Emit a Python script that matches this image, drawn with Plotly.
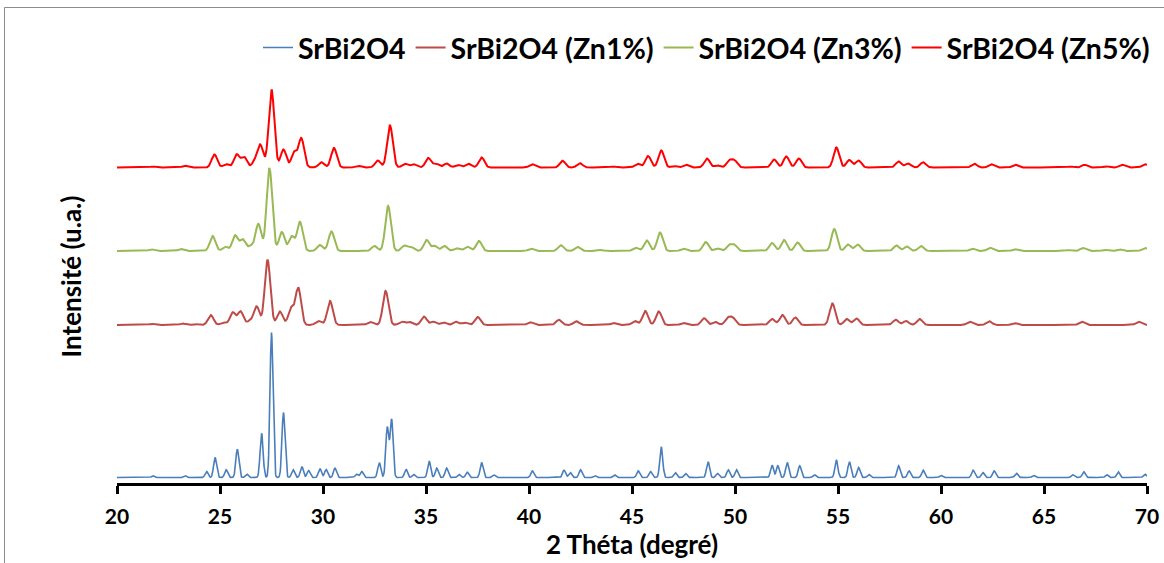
import numpy as np
import plotly.graph_objects as go

# 2-theta scan range (degrees)
two_theta_min, two_theta_max = 20.0, 70.0
x_ticks = [20, 25, 30, 35, 40, 45, 50, 55, 60, 65, 70]

series_names = ["SrBi2O4", "SrBi2O4 (Zn1%)", "SrBi2O4 (Zn3%)", "SrBi2O4 (Zn5%)"]

# Reflections: 2-theta positions and intensities (a.u.)
pure_pos = [21.75, 23.3, 24.35, 24.76, 25.3, 25.84, 26.3, 27.02, 27.5, 28.08, 28.55, 28.97,
            29.3, 29.85, 30.15, 30.58, 31.63, 31.88, 32.73, 33.12, 33.33, 34.03, 34.4,
            35.15, 35.52, 36.0, 36.6, 37.0, 37.7, 38.3,
            40.16, 41.7, 42.0, 42.5, 43.2, 44.15, 45.3, 45.9, 46.42, 47.1, 47.6, 48.69,
            49.15, 49.67, 50.07, 51.8, 52.08, 52.53, 53.14, 53.86, 54.92, 55.55, 56.0,
            56.5, 57.94, 58.45, 59.13, 60.0, 61.56, 62.03, 62.58, 63.66, 64.5, 66.4,
            66.93, 68.05, 68.6, 69.9]
pure_int = [1.7, 2.0, 6.0, 20.0, 7.7, 28.3, 3.3, 44.3, 145.0, 65.0, 7.7, 11.0,
            7.0, 9.0, 8.0, 9.3, 3.3, 6.0, 15.0, 50.0, 58.0, 8.3, 3.0,
            16.7, 9.3, 9.3, 3.0, 5.3, 15.0, 2.5,
            6.7, 7.3, 5.0, 7.7, 2.0, 2.7, 6.7, 6.0, 30.7, 5.0, 4.0, 16.0,
            4.0, 7.7, 7.7, 12.3, 11.7, 15.3, 11.7, 2.7, 17.7, 16.0, 10.0,
            3.0, 11.7, 6.7, 7.3, 2.0, 7.3, 5.0, 6.7, 4.3, 2.0, 2.7,
            5.7, 2.7, 5.7, 3.3]

zn1_pos = [21.7, 23.2, 23.8, 24.55, 25.17, 25.62, 26.0, 26.45, 26.78, 27.31, 27.91, 28.45,
           28.8, 29.78, 30.34, 32.3, 33.04, 33.82, 34.2, 34.9, 35.36, 35.85, 36.46, 36.9,
           37.51, 40.06, 41.45, 42.3, 44.1, 45.13, 45.64, 46.3, 47.5, 48.5, 49.05, 49.65,
           49.9, 51.8, 52.3, 52.93, 54.73, 55.43, 55.9, 57.8, 58.3, 58.96, 61.4, 62.34,
           63.56, 66.83, 69.6]
zn1_int = [1.2, 1.5, 1.0, 10.0, 2.5, 12.5, 13.5, 4.0, 18.5, 65.0, 13.5, 16.5,
           37.0, 4.0, 24.0, 3.0, 34.0, 3.3, 3.0, 8.5, 3.3, 2.7, 3.3, 2.3,
           8.0, 2.7, 5.3, 3.7, 2.0, 4.0, 14.0, 13.5, 2.0, 6.7, 3.0, 6.5,
           6.5, 6.0, 10.0, 7.5, 21.5, 6.0, 6.5, 5.3, 4.0, 6.0, 3.3, 3.7,
           2.0, 3.3, 3.3]

zn3_pos = [21.68, 23.1, 24.64, 25.25, 25.73, 26.1, 26.5, 26.86, 27.4, 28.0, 28.48, 28.88,
           29.85, 30.41, 32.5, 33.16, 33.95, 34.3, 35.03, 35.43, 35.9, 36.5, 37.0, 37.57,
           40.1, 41.55, 42.37, 43.5, 45.17, 45.72, 46.36, 47.5, 48.58, 49.15, 49.72,
           49.98, 51.8, 52.38, 53.04, 54.82, 55.49, 55.96, 57.84, 58.35, 59.03, 61.52,
           62.38, 63.6, 66.2, 66.9, 67.96, 68.67, 69.9]
zn3_int = [1.5, 2.0, 15.0, 4.3, 15.5, 11.5, 5.0, 27.0, 83.0, 19.0, 14.5, 29.0,
           6.0, 19.5, 5.0, 45.0, 5.3, 3.7, 11.0, 5.0, 5.0, 2.7, 4.3, 10.0,
           2.3, 5.7, 4.0, 1.0, 3.3, 10.5, 18.5, 2.3, 9.0, 2.5, 5.5,
           5.5, 8.0, 11.0, 8.5, 22.0, 6.5, 6.5, 5.5, 4.5, 5.0, 2.3,
           3.3, 1.7, 1.0, 3.0, 1.2, 1.7, 3.0]

zn5_pos = [21.77, 23.3, 24.73, 25.3, 25.81, 26.17, 26.7, 26.96, 27.5, 28.08, 28.6, 28.95,
           29.92, 30.53, 31.7, 32.66, 33.25, 33.98, 34.4, 35.11, 35.5, 36.0, 36.55, 37.05,
           37.7, 40.16, 41.63, 42.47, 44.1, 45.27, 45.78, 46.42, 47.05, 47.62, 48.64,
           49.15, 49.72, 49.98, 51.9, 52.49, 53.1, 54.92, 55.55, 56.0, 57.94, 58.41, 59.13,
           61.62, 62.44, 63.6, 66.3, 66.97, 68.0, 68.8, 69.9]
zn5_int = [1.0, 1.7, 13.0, 3.3, 13.0, 10.5, 6.0, 22.0, 78.0, 18.0, 15.0, 29.0,
           5.3, 19.5, 1.7, 7.0, 42.0, 3.7, 3.3, 9.5, 4.0, 4.0, 2.7, 3.7,
           10.0, 3.3, 6.7, 4.3, 1.0, 3.7, 11.5, 17.0, 1.5, 2.7, 9.0,
           2.0, 6.5, 6.5, 8.0, 11.0, 9.0, 20.0, 7.5, 7.0, 6.0, 4.0, 5.3,
           3.7, 3.3, 2.7, 1.0, 2.7, 1.2, 2.7, 3.3]

# Peak widths (FWHM, degrees) and vertical stacking offsets (a.u.)
fwhm = [0.17, 0.32, 0.32, 0.32]
offsets = [5.5, 158.0, 232.0, 315.5]

colors = ["#4A7EBB", "#BE4B48", "#98B954", "#FF0000"]
widths = [1.6, 2.0, 2.0, 2.0]

theta = np.round(np.arange(two_theta_min, two_theta_max + 0.001, 0.02), 3)


def pattern(pos, inten, w, base):
    sig = w / 2.3548
    p = np.asarray(pos)[:, None]
    h = np.asarray(inten)[:, None]
    return base + (h * np.exp(-0.5 * ((theta[None, :] - p) / sig) ** 2)).sum(axis=0)


peak_sets = [(pure_pos, pure_int), (zn1_pos, zn1_int), (zn3_pos, zn3_int), (zn5_pos, zn5_int)]

fig = go.Figure()
for i, (name, (pos, inten)) in enumerate(zip(series_names, peak_sets)):
    fig.add_trace(go.Scatter(
        x=theta, y=pattern(pos, inten, fwhm[i], offsets[i]),
        mode="lines", name=name,
        line=dict(color=colors[i], width=widths[i]),
    ))

W, H = 1164, 563
ml, mr, mt, mb = 117, 17, 70, 80
plot_w = W - ml - mr
plot_h = H - mt - mb

font_family = "Lato"

fig.update_layout(
    width=W, height=H, autosize=False,
    margin=dict(l=ml, r=mr, t=mt, b=mb, pad=0, autoexpand=False),
    paper_bgcolor="white", plot_bgcolor="white",
    showlegend=True,
    legend=dict(
        orientation="h", x=(1155 - ml) / plot_w, xanchor="right",
        y=(483 - 48) / plot_h, yanchor="middle",
        font=dict(family=font_family, size=28.5, color="black", weight="bold"),
        bgcolor="rgba(0,0,0,0)", itemwidth=30, tracegroupgap=0,
    ),
    xaxis=dict(
        range=[two_theta_min, two_theta_max], tickvals=x_ticks,
        showline=True, linecolor="black", linewidth=3,
        ticks="outside", ticklen=8, tickwidth=3, tickcolor="black",
        showgrid=False, zeroline=False, ticklabelstandoff=5, automargin=False,
        tickfont=dict(family=font_family, size=21, color="black", weight="bold"),
        title=dict(text="2 Théta (degré)", standoff=0,
                   font=dict(family=font_family, size=26, color="black", weight="bold")),
    ),
    yaxis=dict(
        range=[0, plot_h], showline=False, showticklabels=False, ticks="",
        showgrid=False, zeroline=False, automargin=False,
        title=dict(text="Intensité (u.a.)", standoff=26,
                   font=dict(family=font_family, size=26, color="black", weight="bold")),
    ),
    shapes=[
        dict(type="rect", xref="paper", yref="paper",
             x0=(4.5 - ml) / plot_w, x1=1.2, y0=-0.5, y1=(483 - 7.5) / plot_h,
             line=dict(color="#8C8C8C", width=1), fillcolor="rgba(0,0,0,0)", layer="below"),
    ],
)

fig.write_html("out.html")
